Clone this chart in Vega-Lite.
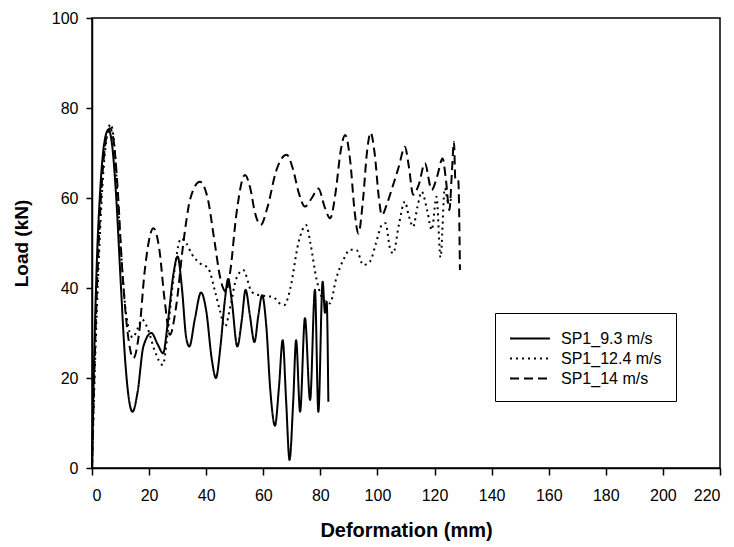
{
  "$schema": "https://vega.github.io/schema/vega-lite/v6.json",
  "width": 628,
  "height": 450,
  "autosize": "none",
  "padding": {"left": 92, "top": 18, "right": 14, "bottom": 79},
  "background": "white",
  "config": {
    "view": {"stroke": "black", "strokeWidth": 1.5},
    "font": "Liberation Sans"
  },
  "datasets": {
    "a": [
      {"x":0,"y":0},{"x":0.6,"y":20},{"x":1.5,"y":42},{"x":3,"y":63},{"x":4.5,"y":73},{"x":5.8,"y":75.2},{"x":7,"y":72},{"x":8.5,"y":60},{"x":10,"y":42},{"x":11.5,"y":25},{"x":13,"y":15},{"x":14.2,"y":12.5},{"x":16,"y":17},{"x":18,"y":27},{"x":20.8,"y":30},{"x":23,"y":27.5},{"x":24.9,"y":25.5},{"x":26.5,"y":32},{"x":28.5,"y":43},{"x":30,"y":47},{"x":31.5,"y":40},{"x":33,"y":29},{"x":34.1,"y":27},{"x":36,"y":33},{"x":38.2,"y":39},{"x":40,"y":35},{"x":42,"y":24},{"x":43.4,"y":20},{"x":45,"y":27},{"x":46.5,"y":37},{"x":47.7,"y":42},{"x":49,"y":37},{"x":50.9,"y":27},{"x":52.5,"y":33},{"x":53.8,"y":39.6},{"x":55.3,"y":34},{"x":56.9,"y":28},{"x":58.3,"y":34},{"x":59.6,"y":38.4},{"x":61,"y":32},{"x":62.5,"y":17},{"x":64.1,"y":9.4},{"x":65.5,"y":18},{"x":66.8,"y":28.4},{"x":68,"y":15},{"x":69.2,"y":1.8},{"x":70.5,"y":15},{"x":71.5,"y":28.4},{"x":72.9,"y":12.5},{"x":74.6,"y":33.3},{"x":76.4,"y":15.1},{"x":78.1,"y":39.6},{"x":79.3,"y":12.5},{"x":80.8,"y":41.4},{"x":81.6,"y":34.5},{"x":82.2,"y":37},{"x":82.8,"y":14.7}
    ],
    "b": [
      {"x":0,"y":0},{"x":1,"y":22},{"x":2.5,"y":48},{"x":4,"y":66},{"x":5.3,"y":74},{"x":6.5,"y":76.4},{"x":7.8,"y":72},{"x":9,"y":60},{"x":10.5,"y":45},{"x":12,"y":34},{"x":14.3,"y":29},{"x":16,"y":31},{"x":17.5,"y":33},{"x":19.5,"y":31},{"x":22,"y":26},{"x":24.8,"y":22.9},{"x":26.5,"y":30},{"x":28.5,"y":42},{"x":31.2,"y":51},{"x":33,"y":50},{"x":35,"y":47.5},{"x":37.8,"y":45.5},{"x":40.7,"y":44.4},{"x":43,"y":39.5},{"x":44.8,"y":35},{"x":46.6,"y":31.4},{"x":48.5,"y":36},{"x":50.5,"y":42},{"x":53,"y":44},{"x":55.9,"y":39.2},{"x":58,"y":38.5},{"x":61,"y":38.2},{"x":63.5,"y":38},{"x":65.5,"y":36.7},{"x":67.4,"y":36.2},{"x":69.5,"y":40},{"x":72.3,"y":50},{"x":75,"y":54},{"x":76.5,"y":50},{"x":78.7,"y":41.8},{"x":81,"y":37.5},{"x":83.4,"y":36.6},{"x":85.5,"y":42},{"x":88,"y":46.2},{"x":90.5,"y":48.5},{"x":92.7,"y":48.4},{"x":95,"y":45.1},{"x":97.4,"y":45.9},{"x":99.5,"y":50},{"x":101.5,"y":54},{"x":102.8,"y":54.4},{"x":104.4,"y":48.8},{"x":105.5,"y":47.7},{"x":107.5,"y":54},{"x":109.6,"y":59.2},{"x":111,"y":56},{"x":112.5,"y":53.6},{"x":114,"y":58},{"x":115.5,"y":61.4},{"x":117.5,"y":57},{"x":119,"y":52.9},{"x":120.7,"y":60.3},{"x":122.1,"y":46.8},{"x":123.6,"y":62.2},{"x":124.8,"y":58.9},{"x":126,"y":60}
    ],
    "c": [
      {"x":0,"y":0},{"x":1,"y":25},{"x":2.5,"y":52},{"x":4,"y":68},{"x":5.2,"y":74},{"x":6.3,"y":75.5},{"x":7.5,"y":73},{"x":9,"y":62},{"x":10.5,"y":45},{"x":12.5,"y":30},{"x":14.5,"y":24.4},{"x":16.5,"y":30},{"x":18.5,"y":44},{"x":21.5,"y":53.3},{"x":23.5,"y":49},{"x":25.5,"y":37},{"x":27.3,"y":29.6},{"x":29.5,"y":36},{"x":32,"y":50},{"x":34.5,"y":60},{"x":37.8,"y":63.6},{"x":40.5,"y":60},{"x":43,"y":50},{"x":45,"y":42},{"x":46.9,"y":39.2},{"x":48.5,"y":44},{"x":50.5,"y":56},{"x":53.6,"y":65.1},{"x":55.5,"y":62},{"x":57,"y":57},{"x":59.1,"y":54},{"x":61.5,"y":58},{"x":64.5,"y":66},{"x":68.2,"y":69.6},{"x":70.5,"y":66.2},{"x":72.5,"y":61},{"x":74.6,"y":58.1},{"x":77,"y":60},{"x":79.3,"y":62.1},{"x":81.5,"y":58},{"x":83.4,"y":55.5},{"x":85.5,"y":62},{"x":87,"y":70},{"x":88.7,"y":74},{"x":90.5,"y":68},{"x":92,"y":57},{"x":93.3,"y":52.1},{"x":95,"y":60},{"x":96.3,"y":70},{"x":97.6,"y":74.5},{"x":99,"y":70},{"x":100.5,"y":60},{"x":101.5,"y":56.2},{"x":103.5,"y":59},{"x":105.3,"y":62.5},{"x":107.5,"y":67},{"x":109.6,"y":71.4},{"x":111,"y":67},{"x":112.5,"y":60.7},{"x":114.5,"y":63},{"x":116.6,"y":67.7},{"x":119,"y":61.8},{"x":121,"y":65},{"x":122.8,"y":68.8},{"x":124,"y":64},{"x":125.2,"y":57.3},{"x":126.1,"y":66},{"x":126.8,"y":72.5},{"x":127.3,"y":64},{"x":128.3,"y":64},{"x":128.9,"y":44}
    ]
  },
  "layer": [
    {
      "data": {"name": "a"},
      "transform": [{"calculate": "'SP1_9.3 m/s'", "as": "s"}],
      "mark": {"type": "line", "interpolate": "monotone", "color": "black", "strokeWidth": 2},
      "encoding": {
        "x": {"field": "x", "type": "quantitative"},
        "y": {"field": "y", "type": "quantitative"},
        "strokeDash": {"field": "s", "type": "nominal"}
      }
    },
    {
      "data": {"name": "b"},
      "transform": [{"calculate": "'SP1_12.4 m/s'", "as": "s"}],
      "mark": {"type": "line", "interpolate": "monotone", "color": "black", "strokeWidth": 2},
      "encoding": {
        "x": {"field": "x", "type": "quantitative"},
        "y": {"field": "y", "type": "quantitative"},
        "strokeDash": {"field": "s", "type": "nominal"}
      }
    },
    {
      "data": {"name": "c"},
      "transform": [{"calculate": "'SP1_14 m/s'", "as": "s"}],
      "mark": {"type": "line", "interpolate": "monotone", "color": "black", "strokeWidth": 2},
      "encoding": {
        "x": {"field": "x", "type": "quantitative"},
        "y": {"field": "y", "type": "quantitative"},
        "strokeDash": {"field": "s", "type": "nominal"}
      }
    }
  ],
  "encoding": {
    "x": {
      "field": "x", "type": "quantitative",
      "scale": {"domain": [0, 220], "nice": false},
      "axis": {"title": "Deformation (mm)", "values": [0,20,40,60,80,100,120,140,160,180,200,220], "grid": false, "tickSize": 7, "labelPadding": 12, "labelFontSize": 16, "labelColor": "black", "titleFontSize": 20, "titleFontWeight": "bold", "titleColor": "black", "titlePadding": 17, "domainColor": "black", "domainWidth": 1.5, "tickColor": "black", "tickWidth": 1.5}
    },
    "y": {
      "field": "y", "type": "quantitative",
      "scale": {"domain": [0, 100], "nice": false},
      "axis": {"title": "Load (kN)", "values": [0,20,40,60,80,100], "grid": false, "tickSize": 6, "labelPadding": 8, "labelFontSize": 16, "labelColor": "black", "titleFontSize": 19, "titleFontWeight": "bold", "titleColor": "black", "titlePadding": 20, "domainColor": "black", "domainWidth": 1.5, "tickColor": "black", "tickWidth": 1.5}
    },
    "strokeDash": {
      "field": "s", "type": "nominal",
      "scale": {"domain": ["SP1_9.3 m/s", "SP1_12.4 m/s", "SP1_14 m/s"], "range": [[1, 0], [2, 4], [9, 5]]},
      "legend": {"title": null, "orient": "none", "legendX": 403, "legendY": 295, "strokeColor": "black", "padding": 14, "symbolType": "M-1,0H2.8", "symbolSize": 441, "symbolStrokeWidth": 2, "symbolStrokeColor": "black", "symbolFillColor": "transparent", "labelFontSize": 16, "labelColor": "black", "labelOffset": 29, "rowPadding": 0}
    }
  }
}
